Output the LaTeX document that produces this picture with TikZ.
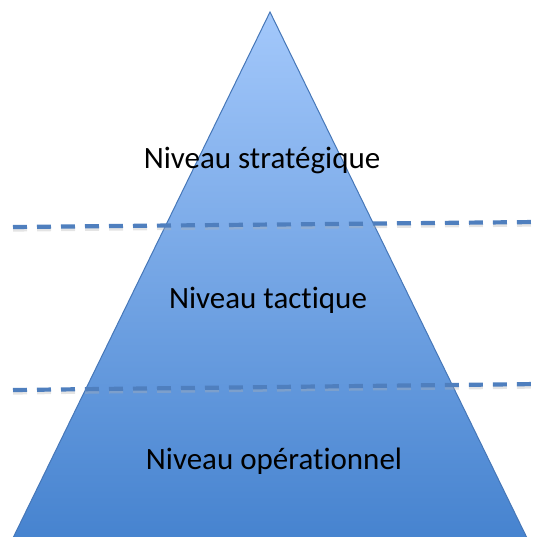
\documentclass[tikz,border=0pt]{standalone}
\usepackage{fontspec}
\setmainfont{Carlito}[Ligatures={NoCommon,NoRare}]
\definecolor{edgeblue}{HTML}{4677B8}
\definecolor{topblue}{HTML}{A3C8FB}
\definecolor{botblue}{HTML}{4683CF}
\definecolor{dashblue}{HTML}{4F7FBE}
\newcommand{\tisep}{t\kern0pt i}
\begin{document}
\begin{tikzpicture}[x=1pt,y=-1pt,
  level/.style={font=\fontsize{31}{36}\selectfont, text=black, inner sep=0pt},
  divider/.style={draw=dashblue, line width=4.2pt, dash pattern=on 14pt off 10pt},
  dividershadow/.style={draw=black!30, line width=4.2pt, dash pattern=on 14pt off 10pt, opacity=0.35}]
  \useasboundingbox (0,0) rectangle (540,536);
  % pyramid
  \coordinate (apex) at (270,12);
  \coordinate (bl) at (12,540);
  \coordinate (br) at (528,540);
  \begin{scope}
    \clip (0,0) rectangle (540,536);
    \shade[top color=topblue, bottom color=botblue, draw=edgeblue, line width=1pt]
      (apex) -- (br) -- (bl) -- cycle;
  \end{scope}
  % labels
  \node[level] (strat) at (262,160) {Niveau stratégique};
  \node[level] (tact) at (268,300) {Niveau tac\tisep que};
  \node[level] (oper) at (274,461) {Niveau opéra\tisep onnel};
  % dashed dividers with a soft drop shadow
  \coordinate (d1l) at (13,227);
  \coordinate (d1r) at (537,222);
  \coordinate (d2l) at (13,390);
  \coordinate (d2r) at (537,384);
  \draw[dividershadow] ([yshift=-2.5pt]d1l) -- ([yshift=-2.5pt]d1r);
  \draw[dividershadow] ([yshift=-2.5pt]d2l) -- ([yshift=-2.5pt]d2r);
  \draw[divider] (d1l) -- (d1r);
  \draw[divider] (d2l) -- (d2r);
\end{tikzpicture}
\end{document}
